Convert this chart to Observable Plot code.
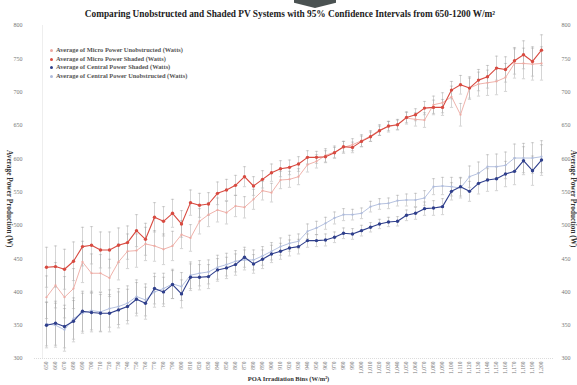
<!DOCTYPE html>
<html><head><meta charset="utf-8">
<script src="https://cdn.jsdelivr.net/npm/d3@7"></script>
<script src="https://cdn.jsdelivr.net/npm/@observablehq/plot@0.6"></script>
<style>
body{margin:0;background:#fff;width:577px;height:385px;overflow:hidden;position:relative;font-family:"Liberation Serif","DejaVu Serif",serif;}
#chart{position:absolute;left:0;top:0;}
.ov{position:absolute;font-weight:bold;color:#333;white-space:nowrap;}
#title{top:9px;left:0;width:580px;text-align:center;font-size:9.3px;color:#222;}
#chev{position:absolute;left:294px;top:0;width:42px;height:8px;background:#4a5252;clip-path:polygon(0 0,100% 0,100% 35%,50% 100%,0 35%);}
#xt{top:375px;left:0;width:577px;text-align:center;font-size:6.5px;}
#yl{left:5px;top:150px;writing-mode:vertical-rl;font-size:7.3px;}
#yr{left:569px;top:150px;writing-mode:vertical-rl;font-size:7.3px;}
#legend{position:absolute;left:50px;top:46px;font-size:6.4px;font-weight:bold;color:#555;line-height:8.5px;}
#legend .m{display:inline-block;width:3px;height:3px;border-radius:50%;margin-right:3px;vertical-align:middle;}
</style></head>
<body>
<div id="chev"></div>
<div id="chart"></div>
<div class="ov" id="title">Comparing Unobstructed and Shaded PV Systems with 95% Confidence Intervals from 650-1200 W/m²</div>
<div class="ov" id="yl">Average Power Production (W)</div>
<div class="ov" id="yr">Average Power Production (W)</div>
<div class="ov" id="xt">POA Irradiation Bins (W/m²)</div>
<div id="legend"></div>
<script>
const bins = [650,660,670,680,690,700,710,720,730,740,750,760,770,780,790,800,810,820,830,840,850,860,870,880,890,900,910,920,930,940,950,960,970,980,990,1000,1010,1020,1030,1040,1050,1060,1070,1080,1090,1100,1110,1120,1130,1140,1150,1160,1170,1180,1190,1200];
const yTicks = [300,350,400,450,500,550,600,650,700,750,800];
const seriesNames = ["Average of Micro Power Unobstructed (Watts)","Average of Micro Power Shaded (Watts)","Average of Central Power Shaded (Watts)","Average of Central Power Unobstructed (Watts)"];
const seriesColors = ["#eda9a2","#d84a40","#2f3f8c","#adbadb"];

const microUnob = [392,410,392,405,445,428,428,421,445,461,462,472,469,464,469,486,481,506,516,523,519,529,527,539,552,549,568,569,573,591,596,605,610,617,621,627,634,643,648,651,661,659,658,681,684,693,666,706,712,714,716,722,743,743,742,743];
const microShaded = [437,438,434,446,468,470,463,463,470,474,492,479,512,506,518,502,534,530,532,548,553,560,573,559,569,579,585,587,592,602,602,603,609,618,617,626,633,642,649,651,662,666,676,677,677,703,711,706,718,723,736,734,747,756,746,763];
const centralShaded = [350,353,348,356,371,369,368,368,373,378,389,383,405,400,411,397,422,422,423,433,436,441,452,442,449,457,461,466,468,477,477,478,482,488,487,492,497,502,505,506,515,518,525,526,528,551,558,551,563,568,570,577,581,597,582,598];
const centralUnob = [352,350,343,360,368,372,370,375,378,383,393,388,400,405,412,408,425,428,430,437,441,446,448,448,454,461,468,473,476,491,496,503,511,516,516,518,528,532,533,537,538,538,541,558,559,558,556,573,578,588,588,590,601,601,601,603];

const microUnobCI = [32,34,31,30,31,29,28,28,27,26,25,25,23,23,22,21,20,19,18,18,17,16,16,15,14,14,13,12,12,11,10,10,9,9,9,9,8,8,8,8,9,10,11,13,15,16,17,17,18,19,20,21,22,23,24,25];
const microShadedCI = [30,31,30,29,29,28,27,27,26,25,24,24,22,22,21,20,19,18,17,17,16,15,15,14,13,13,12,11,11,10,9,9,8,8,8,8,7,7,7,7,8,9,10,11,12,13,14,15,16,17,18,19,20,21,22,23];
const centralShadedCI = [34,33,32,31,30,29,28,28,27,26,25,24,23,22,21,21,20,19,18,17,16,16,15,14,14,13,12,12,11,10,9,9,8,8,8,8,7,7,7,7,8,9,10,11,12,13,14,15,16,17,18,19,20,21,22,23];
const centralUnobCI = [33,33,32,31,30,29,29,28,27,26,25,24,23,23,22,21,20,19,18,18,17,16,15,15,14,13,13,12,11,11,10,9,9,9,8,8,8,8,8,8,9,10,11,12,13,14,15,16,17,18,19,20,21,22,23,24];

const values = [microUnob, microShaded, centralShaded, centralUnob];
const cis = [microUnobCI, microShadedCI, centralShadedCI, centralUnobCI];
const rows = [];
seriesNames.forEach((name, s) => bins.forEach((b, i) => rows.push({bin: b, v: values[s][i], lo: values[s][i] - cis[s][i], hi: values[s][i] + cis[s][i], name, s})));

const cap = {draw(ctx, size){ const w = 1.6; ctx.moveTo(-w,0); ctx.lineTo(w,0); }};
const order = [0,3,1,2];
const marks = [
  Plot.ruleY([300], {stroke:"#dcdcdc", strokeDasharray:"1,1"}),
  Plot.ruleX([bins[0]], {stroke:"#eeeeee", dx:-4}),
  Plot.axisY({anchor:"left", ticks:yTicks, tickSize:0, tickPadding:12, fontSize:6, fill:"#777", label:null}),
  Plot.axisY({anchor:"right", ticks:yTicks, tickSize:0, tickPadding:8, fontSize:6, fill:"#777", label:null}),
  Plot.axisX({ticks:bins, tickRotate:-90, tickSize:0, tickPadding:3, fontSize:5.5, fill:"#777", label:null})
];
for (const s of order) {
  const d = rows.filter(r => r.s === s);
  marks.push(Plot.ruleX(d, {x:"bin", y1:"lo", y2:"hi", stroke:"#a0a0a0", strokeWidth:0.6, strokeOpacity:0.75}));
  marks.push(Plot.dot(d, {x:"bin", y:"lo", symbol:cap, stroke:"#a0a0a0", strokeWidth:0.6, strokeOpacity:0.75}));
  marks.push(Plot.dot(d, {x:"bin", y:"hi", symbol:cap, stroke:"#a0a0a0", strokeWidth:0.6, strokeOpacity:0.75}));
}
for (const s of order) {
  const d = rows.filter(r => r.s === s);
  const strong = (s === 1 || s === 2);
  marks.push(Plot.line(d, {x:"bin", y:"v", stroke:seriesColors[s], strokeWidth: strong ? 1.1 : 0.9}));
  marks.push(Plot.dot(d, {x:"bin", y:"v", r: strong ? 1.7 : 1.1, fill:seriesColors[s], stroke:"none"}));
}

const chart = Plot.plot({
  width:577, height:385,
  marginTop:25, marginBottom:27, marginLeft:34, marginRight:24,
  style:{fontFamily:"'Liberation Serif', 'DejaVu Serif', serif", background:"transparent"},
  x:{type:"point", domain:bins, padding:0.43},
  y:{domain:[300,800]},
  marks
});
document.getElementById("chart").appendChild(chart);

const lg = document.getElementById("legend");
seriesNames.forEach((n, i) => {
  const row = document.createElement("div");
  const m = document.createElement("span");
  m.className = "m"; m.style.background = seriesColors[i];
  row.appendChild(m); row.appendChild(document.createTextNode(n));
  lg.appendChild(row);
});
</script>
</body></html>
